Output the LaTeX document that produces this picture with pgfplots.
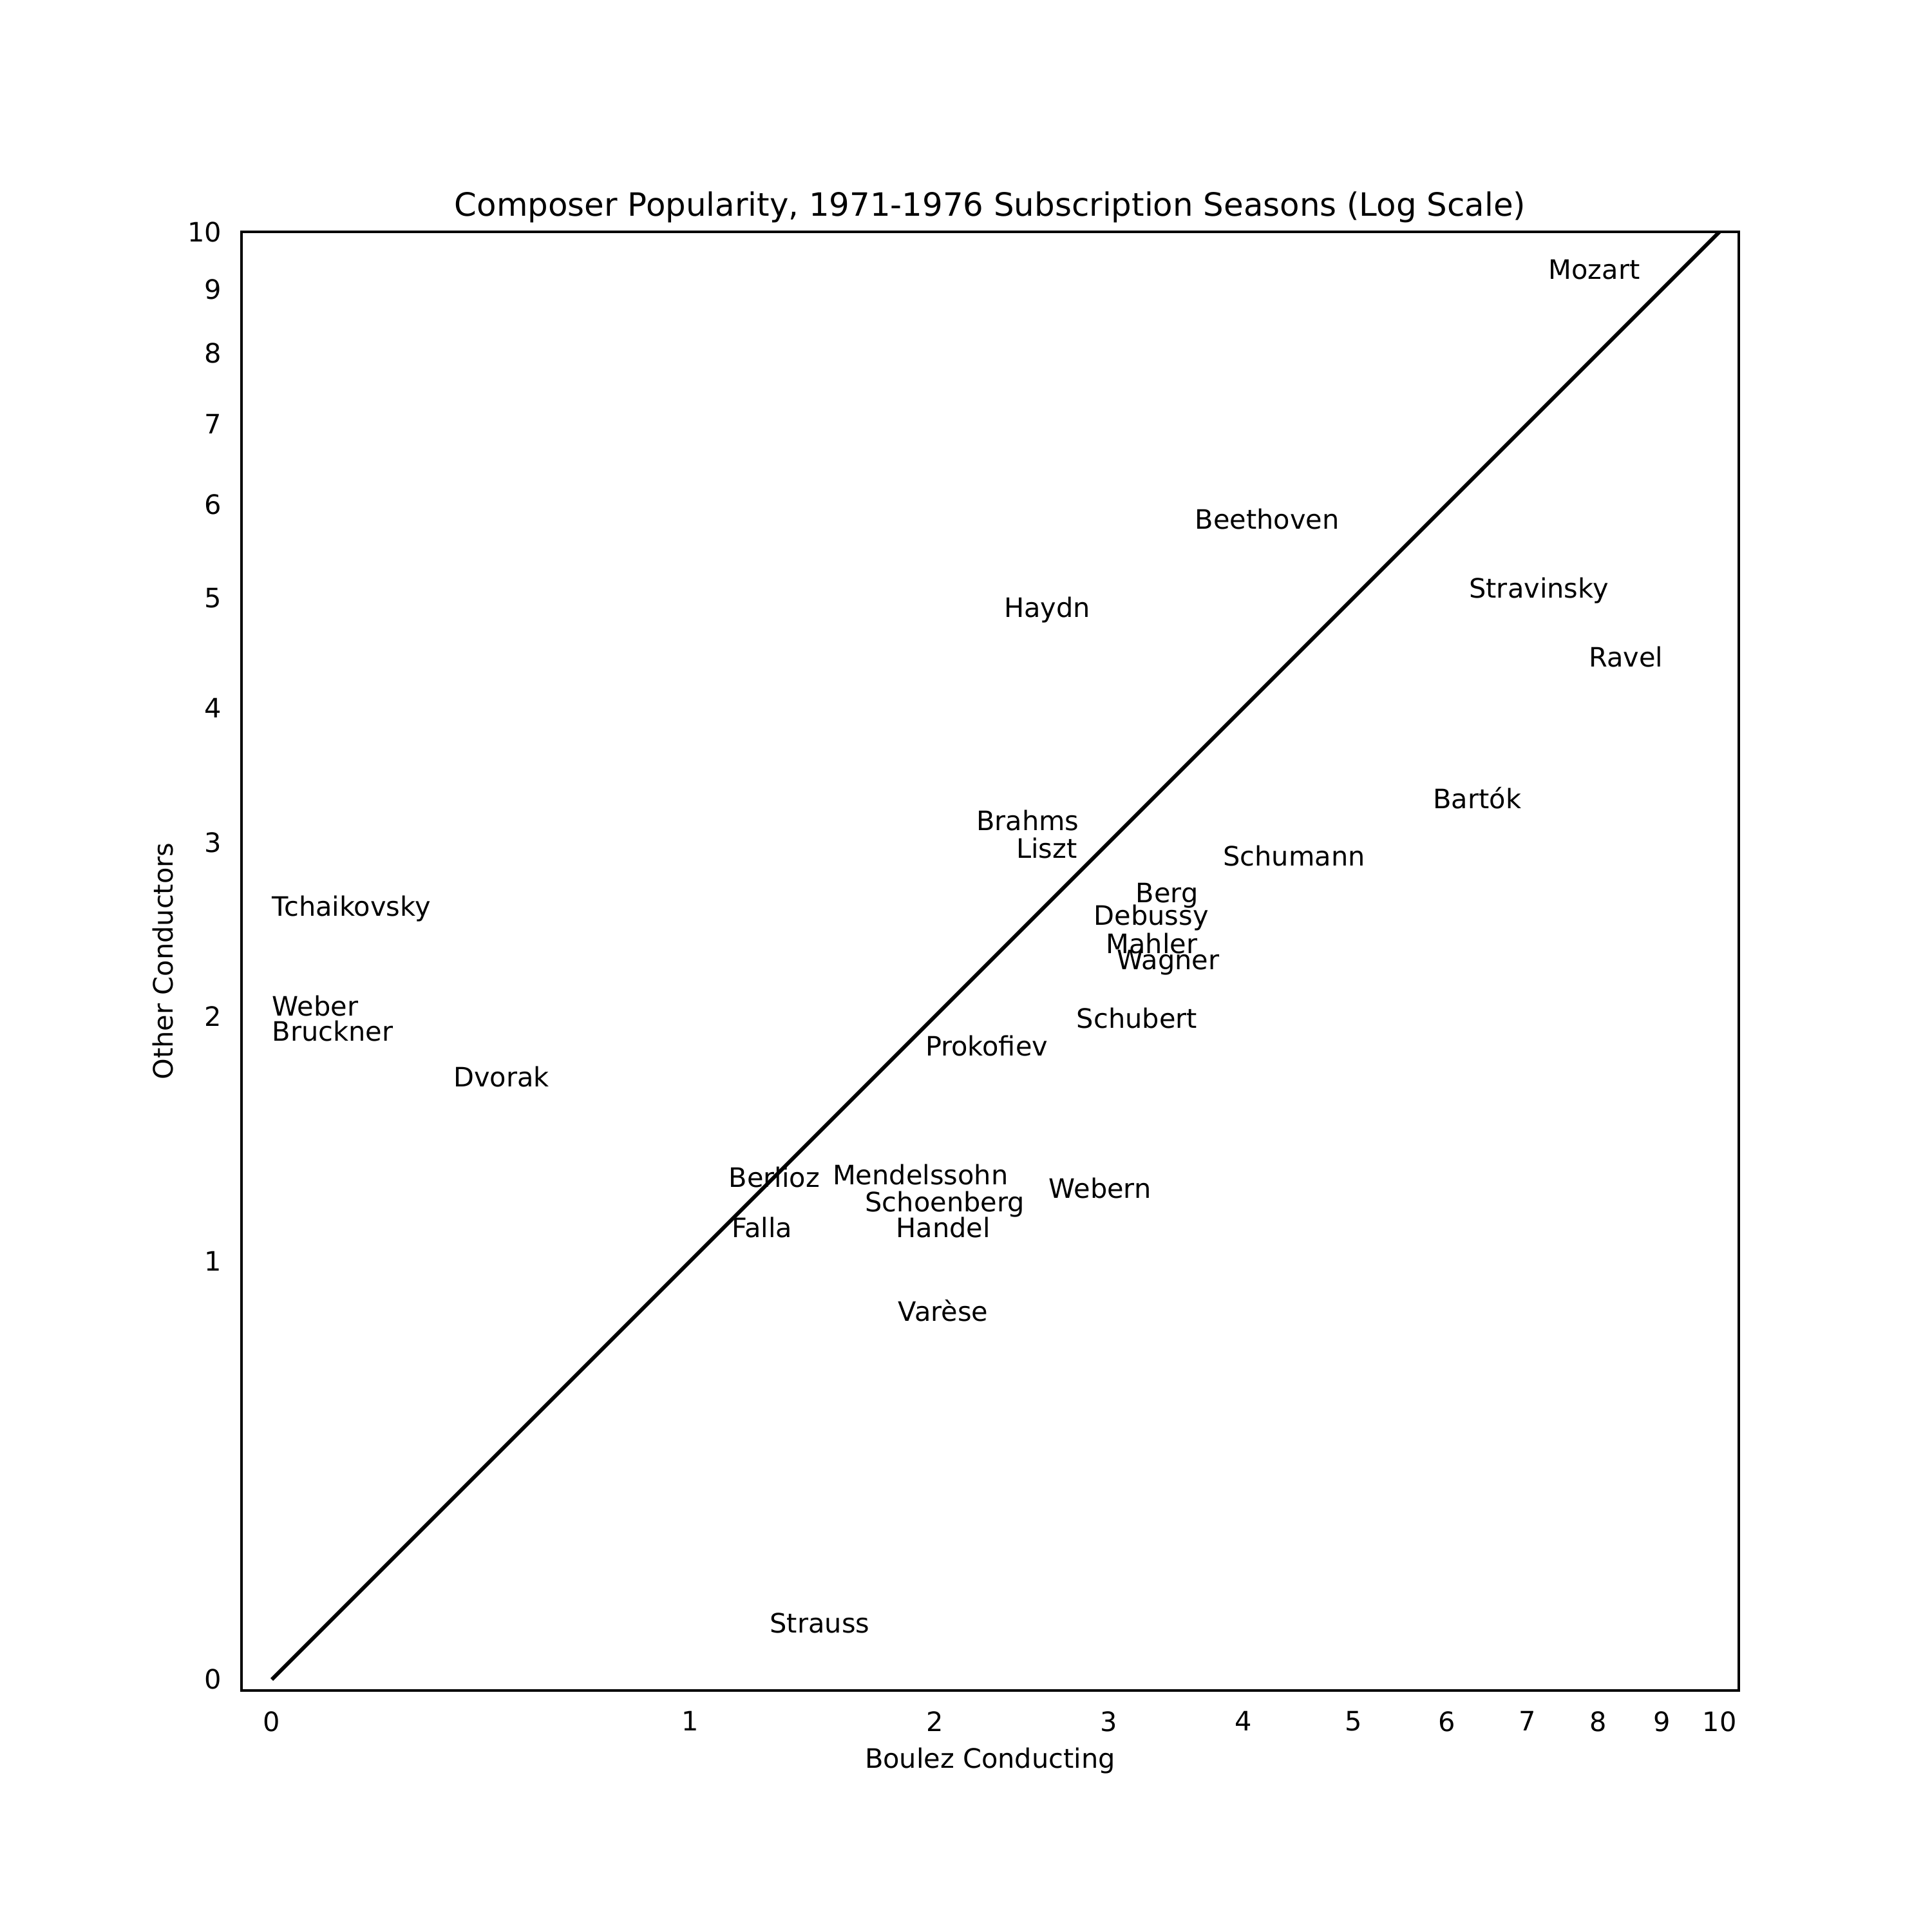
\documentclass[border=0pt]{standalone}
\usepackage{fontspec}
\setmainfont{DejaVu Sans}
\usepackage{pgfplots}
\usepackage{pgfplotstable}
\pgfplotsset{compat=1.18}

% composer, Boulez conducting, other conductors
\pgfplotstableread{
x y name
0 2.54 Tchaikovsky
0 2.00 Weber
0 1.88 Bruckner
0.35 1.67 Dvorak
1.13 1.26 Berlioz
1.14 1.08 Falla
1.53 1.27 Mendelssohn
1.67 1.17 Schoenberg
1.81 1.08 Handel
1.82 0.81 Varèse
1.28 0.08 Strauss
2.21 3.08 Brahms
2.43 2.90 Liszt
3.83 2.85 Schumann
3.18 2.62 Berg
2.90 2.49 Debussy
2.98 2.33 Mahler
3.05 2.24 Wagner
2.79 1.94 Schubert
1.95 1.81 Prokofiev
2.62 1.22 Webern
3.61 5.72 Beethoven
2.36 4.81 Haydn
6.26 5.00 Stravinsky
7.85 4.35 Ravel
5.84 3.23 Bartók
7.28 9.17 Mozart
}\composers

\begin{document}
\begin{tikzpicture}
\path[use as bounding box] (0,0) rectangle (10in,10in);
\begin{axis}[
    at={(1.25in,1.25in)},
    anchor=south west,
    scale only axis,
    width=7.75in,
    height=7.55in,
    x coord trafo/.code={\pgfmathparse{log10(#1+1)}},
    y coord trafo/.code={\pgfmathparse{log10(#1+1)}},
    xmin=-0.0489, xmax=10.357,
    ymin=-0.018, ymax=10,
    xtick={0,1,2,3,4,5,6,7,8,9,10},
    ytick={0,1,2,3,4,5,6,7,8,9,10},
    xticklabels={0,1,2,3,4,5,6,7,8,9,10},
    yticklabels={0,1,2,3,4,5,6,7,8,9,10},
    major tick length=0pt,
    tick style={draw=none},
    xticklabel style={anchor=north, inner sep=0pt, yshift=-7.6pt},
    yticklabel style={anchor=east, inner sep=0pt, xshift=-7.2pt},
    axis line style={black, line width=0.8pt},
    title={Composer Popularity, 1971-1976 Subscription Seasons (Log Scale)},
    xlabel={Boulez Conducting},
    ylabel={Other Conductors},
    every axis title/.style={at={(axis description cs:0.5,1.0110)}, anchor=base,
        inner sep=0pt, font=\fontsize{12}{14}\selectfont},
    every axis x label/.style={at={(axis description cs:0.5,-0.0530)}, anchor=base,
        inner sep=0pt},
    every axis y label/.style={at={(axis description cs:-0.046,0.5)}, anchor=base,
        rotate=90, inner sep=0pt},
    clip=false,
    ]

    % equal popularity
    \addplot[black, line width=1.4pt] coordinates {(0,0) (10,10)};

    % composer names at their positions
    \addplot[only marks, mark=none,
        point meta=explicit symbolic,
        nodes near coords,
        nodes near coords align={center},
        every node near coord/.append style={anchor=base west, inner sep=0pt, black}]
        table[x=x, y=y, meta=name] {\composers};

\end{axis}
\end{tikzpicture}
\end{document}
